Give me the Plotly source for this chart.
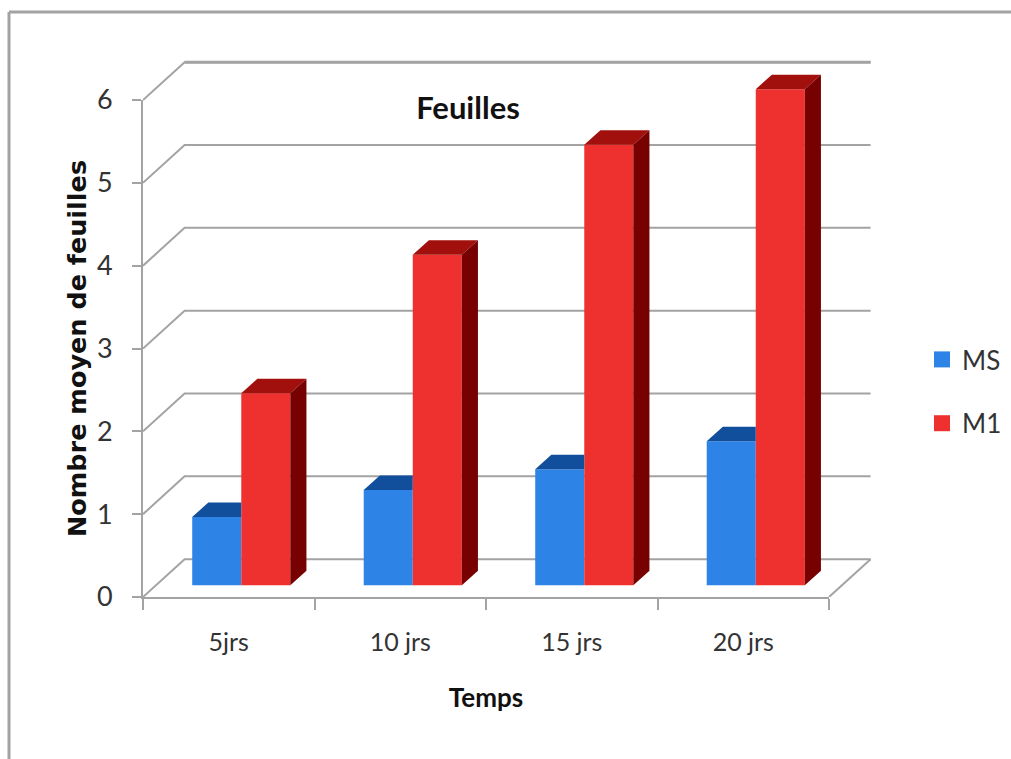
import plotly.graph_objects as go

categories = ["5jrs", "10 jrs", "15 jrs", "20 jrs"]
ms_values = [0.825, 1.15, 1.40, 1.74]
m1_values = [2.32, 3.99, 5.32, 5.99]
y_ticks = [0, 1, 2, 3, 4, 5, 6]

# Chart geometry, in axis units
WALL_DX, WALL_DY = 0.2425, 0.4565  # depth of the floor / side wall
BAR_DX, BAR_DY = 0.094, 0.175      # depth of a bar
BAR_BASE = 0.141                   # front of the bars sits inside the floor
BAR_START, BAR_W = 0.287, 0.286

BLUE, BLUE_TOP = "#2e83e6", "#114f9c"
RED, RED_TOP, RED_SIDE = "#ee312e", "#a1100c", "#770000"
GRID = "#a3a3a3"
TEXT = "#333333"
DARK = "#111111"
FONT = "Lato"

W, H = 1011, 759
L, T, R, B = 143, 54, 875, 597     # whole drawing area, walls included
FRONT_R, FRONT_T = 829, 100        # front axes stop here
PW, PH = R - L, B - T
X_MAX = 4 * PW / (FRONT_R - L)
Y_MAX = 6 * PH / (B - FRONT_T)


def px(x):
    return (x - L) / PW


def py(y):
    return (B - y) / PH


def poly(xs, ys, color):
    return go.Scatter(x=xs, y=ys, mode="lines", fill="toself", fillcolor=color,
                      line=dict(width=0, color=color),
                      xaxis="x3", yaxis="y3", showlegend=False, hoverinfo="skip")


fig = go.Figure()

# Front axes: carrier for ticks, labels and titles
fig.add_trace(go.Scatter(x=[0.5, 1.5, 2.5, 3.5], y=[None] * 4, showlegend=False, hoverinfo="skip"))

# Walls and floor
for v in y_ticks:
    fig.add_trace(go.Scatter(
        x=[0, WALL_DX, len(categories) + WALL_DX], y=[v, v + WALL_DY, v + WALL_DY],
        mode="lines", line=dict(color=GRID, width=2),
        xaxis="x2", yaxis="y2", showlegend=False, hoverinfo="skip"))
fig.add_trace(go.Scatter(
    x=[WALL_DX, len(categories) + WALL_DX], y=[y_ticks[-1] + WALL_DY] * 2,
    mode="lines", line=dict(color=GRID, width=3),
    xaxis="x2", yaxis="y2", showlegend=False, hoverinfo="skip"))
fig.add_trace(go.Scatter(
    x=[len(categories), len(categories) + WALL_DX], y=[0, WALL_DY],
    mode="lines", line=dict(color=GRID, width=2),
    xaxis="x2", yaxis="y2", showlegend=False, hoverinfo="skip"))

left = [i + BAR_START for i in range(len(categories))]
mid = [x + BAR_W for x in left]
right = [x + BAR_W for x in mid]

fig.add_trace(go.Bar(x=left, y=ms_values, base=BAR_BASE, width=BAR_W, offset=0, name="MS",
                     marker=dict(color=BLUE, line=dict(width=0)),
                     xaxis="x3", yaxis="y3", showlegend=False,
                     hovertemplate="%{y}<extra>MS</extra>"))
fig.add_trace(go.Bar(x=mid, y=m1_values, base=BAR_BASE, width=BAR_W, offset=0, name="M1",
                     marker=dict(color=RED, line=dict(width=0)),
                     xaxis="x3", yaxis="y3", showlegend=False,
                     hovertemplate="%{y}<extra>M1</extra>"))

for i in range(len(categories)):
    ms_h = ms_values[i] + BAR_BASE
    m1_h = m1_values[i] + BAR_BASE
    # top of the blue bar, cut where the red bar hides it
    fig.add_trace(poly([left[i], left[i] + BAR_DX, mid[i], mid[i], left[i]],
                       [ms_h, ms_h + BAR_DY, ms_h + BAR_DY, ms_h, ms_h], BLUE_TOP))
    # top and side of the red bar
    fig.add_trace(poly([mid[i], mid[i] + BAR_DX, right[i] + BAR_DX, right[i], mid[i]],
                       [m1_h, m1_h + BAR_DY, m1_h + BAR_DY, m1_h, m1_h], RED_TOP))
    fig.add_trace(poly([right[i], right[i] + BAR_DX, right[i] + BAR_DX, right[i], right[i]],
                       [BAR_BASE, BAR_BASE + BAR_DY, m1_h + BAR_DY, m1_h, BAR_BASE], RED_SIDE))

# Legend entries
fig.add_trace(go.Scatter(x=[None], y=[None], mode="markers", name="MS", legendgroup="a",
                         marker=dict(symbol="square", size=16, color=BLUE)))
fig.add_trace(go.Scatter(x=[None], y=[None], mode="markers", name="M1", legendgroup="b",
                         marker=dict(symbol="square", size=16, color=RED)))

axis_line = dict(showline=True, linecolor=GRID, linewidth=2, showgrid=False, zeroline=False)
hidden_x = dict(domain=[0, 1], range=[0, X_MAX], visible=False, fixedrange=True)
hidden_y = dict(domain=[0, 1], range=[0, Y_MAX], visible=False, fixedrange=True)

fig.update_layout(
    width=W, height=H, autosize=False,
    margin=dict(l=L, t=T, r=W - R, b=H - B, autoexpand=False),
    paper_bgcolor="white", plot_bgcolor="rgba(0,0,0,0)",
    font=dict(family=FONT, color=TEXT, size=24),
    title=dict(text="<b>Feuilles</b>", font=dict(family=FONT, size=31, color=DARK),
               x=px(468), xref="paper", xanchor="center",
               y=1 - 108 / H, yref="container", yanchor="middle"),
    xaxis=dict(domain=[0, px(FRONT_R)], range=[0, 4], anchor="y",
               tickmode="array", tickvals=[0.5, 1.5, 2.5, 3.5], ticktext=categories,
               ticks="", ticklabelstandoff=22, tickfont=dict(size=25, color=TEXT),
               minor=dict(tickmode="array", tickvals=[0, 1, 2, 3, 4], ticks="outside",
                          ticklen=11, tickwidth=2, tickcolor=GRID),
               title=dict(text="<b>Temps</b>", font=dict(size=26, color=DARK), standoff=34),
               **axis_line),
    yaxis=dict(domain=[0, py(FRONT_T)], range=[0, 6], anchor="x",
               tickmode="array", tickvals=y_ticks, ticks="outside", ticklen=9,
               tickwidth=2, tickcolor=GRID, ticklabelstandoff=14,
               tickfont=dict(size=27, color=TEXT),
               title=dict(text="<b>Nombre moyen de feuilles</b>",
                          font=dict(family="DejaVu Sans", size=25.5, color=DARK), standoff=3),
               **axis_line),
    xaxis2=dict(anchor="y2", **hidden_x),
    yaxis2=dict(anchor="x2", **hidden_y),
    xaxis3=dict(anchor="y3", **hidden_x),
    yaxis3=dict(anchor="x3", **hidden_y),
    barmode="overlay",
    legend=dict(x=px(922), xref="paper", xanchor="left", y=py(336), yref="paper",
                yanchor="top", traceorder="grouped", tracegroupgap=27,
                font=dict(size=26, color=TEXT), bgcolor="rgba(0,0,0,0)"),
    shapes=[
        dict(type="line", xref="paper", yref="paper",
             x0=px(9), x1=px(9), y0=py(12), y1=py(H),
             line=dict(color=GRID, width=3)),
        dict(type="line", xref="paper", yref="paper",
             x0=px(9), x1=px(W), y0=py(12), y1=py(12),
             line=dict(color=GRID, width=3)),
    ],
)

fig.write_html("out.html", config=dict(displayModeBar=False),
               post_script="document.body.style.margin='0';")
